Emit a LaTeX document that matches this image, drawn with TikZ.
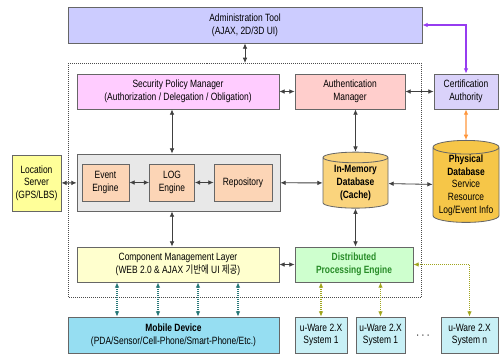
\documentclass[tikz,border=0pt]{standalone}
\usepackage{fontspec}
\setmainfont{Liberation Sans}[FakeStretch=0.8]
\newfontfamily\krfont{Noto Sans CJK KR}[FakeStretch=0.8]
\usetikzlibrary{arrows.meta, positioning, shapes.geometric}

\definecolor{admincol}{RGB}{204,204,255}
\definecolor{spmcol}{RGB}{255,204,255}
\definecolor{authcol}{RGB}{255,206,204}
\definecolor{certcol}{RGB}{218,210,250}
\definecolor{grpcol}{RGB}{232,232,232}
\definecolor{engcol}{RGB}{252,213,182}
\definecolor{loccol}{RGB}{255,255,153}
\definecolor{cachecol}{RGB}{250,212,125}
\definecolor{physcol}{RGB}{246,198,72}
\definecolor{cmlcol}{RGB}{255,255,206}
\definecolor{dpecol}{RGB}{206,255,206}
\definecolor{dpetext}{RGB}{40,140,40}
\definecolor{mobcol}{RGB}{150,222,242}
\definecolor{uwcol}{RGB}{200,240,246}
\definecolor{purplelink}{RGB}{150,60,240}
\definecolor{orangelink}{RGB}{255,150,60}
\definecolor{teallink}{RGB}{40,120,120}
\definecolor{olivelink}{RGB}{160,165,30}

\tikzset{
  box/.style={draw=gray!80!black, line width=0.7pt, rectangle, inner sep=0pt, align=center,
    font=\fontsize{9}{10.8}\selectfont},
  dbbox/.style={box, cylinder, shape border rotate=90, aspect=0.25},
  link/.style={draw=black!75, line width=0.7pt,
    {Latex[length=4.5pt,width=4pt]}-{Latex[length=4.5pt,width=4pt]}},
  dotlink/.style={link, densely dotted, line width=0.9pt},
}

\begin{document}
\begin{tikzpicture}[x=0.03cm, y=-0.03cm]
  \useasboundingbox (0,0) rectangle (501,354);

  % dotted frame round the core
  \draw[densely dotted, gray!60!black, line width=0.7pt] (68,63) rectangle (421,297);
  \coordinate (frametop) at (245,63);

  % top row
  \node[box, fill=admincol, minimum width=10.62cm, minimum height=1.08cm] (admin) at (245,25)
    {Administration Tool\\(AJAX, 2D/3D UI)};
  \node[box, fill=spmcol, minimum width=6.06cm, minimum height=1.05cm] (spm) at (178,91.5)
    {Security Policy Manager\\(Authorization / Delegation / Obligation)};
  \node[box, fill=authcol, minimum width=3.3cm, minimum height=1.05cm] (auth) at (350,91.5)
    {Authentication\\Manager};
  \node[box, fill=certcol, minimum width=1.92cm, minimum height=1.05cm] (cert) at (466,91.5)
    {Certification\\Authority};

  % middle row
  \node[box, fill=loccol, minimum width=1.47cm, minimum height=1.68cm] (loc) at (36.5,183)
    {Location\\Server\\(GPS/LBS)};
  \node[box, fill=grpcol, minimum width=6.09cm, minimum height=1.71cm] (grp) at (178.5,182.5) {};
  \node[box, fill=engcol, minimum width=1.41cm, minimum height=1.11cm] (event) at (105.5,182.5)
    {Event\\Engine};
  \node[box, fill=engcol, minimum width=1.35cm, minimum height=1.11cm] (log) at (172,182.5)
    {LOG\\Engine};
  \node[box, fill=engcol, minimum width=1.74cm, minimum height=1.11cm] (repo) at (243,182.5)
    {Repository};
  \node[dbbox, fill=cachecol, minimum width=1.95cm, minimum height=1.68cm] (cache) at (355.5,183)
    {\bfseries In-Memory\\\bfseries Database\\\bfseries (Cache)};
  \node[dbbox, fill=physcol, minimum width=1.98cm, minimum height=2.46cm] (phys) at (466,185)
    {\bfseries Physical\\\bfseries Database\\Service\\Resource\\Log/Event Info};

  % lower rows
  \node[box, fill=cmlcol, minimum width=6.06cm, minimum height=1.05cm] (cml) at (178,264.5)
    {Component Management Layer\\(WEB 2.0 \& AJAX {\krfont 기반에} UI {\krfont 제공})};
  \node[box, fill=dpecol, text=dpetext, font=\fontsize{9}{10.8}\selectfont\bfseries,
    minimum width=3.54cm, minimum height=1.05cm] (dpe) at (354,264.5)
    {Distributed\\Processing Engine};
  \node[box, fill=mobcol, minimum width=6.33cm, minimum height=1.08cm] (mob) at (173.5,335)
    {\bfseries Mobile Device\\(PDA/Sensor/Cell-Phone/Smart-Phone/Etc.)};
  \node[box, fill=uwcol, minimum width=1.56cm, minimum height=1.08cm] (uw1) at (321,335)
    {u-Ware 2.X\\System 1};
  \node[box, fill=uwcol, minimum width=1.47cm, minimum height=1.08cm] (uw2) at (380.5,335)
    {u-Ware 2.X\\System 1};
  \node[box, fill=uwcol, minimum width=1.71cm, minimum height=1.08cm] (uwn) at (469.5,335)
    {u-Ware 2.X\\System n};
  \node[font=\bfseries] (more) at (423,336) {$\cdots$};

  % connectors
  \draw[link] (admin) -- (frametop);
  \draw[link, draw=purplelink, line width=1.1pt] (cert.north) |- (admin.east);
  \draw[link] (spm) -- (auth);
  \draw[link] (auth) -- (cert);
  \draw[link] (spm.south -| log) -- (grp.north -| log);
  \draw[link] (event) -- (log);
  \draw[link] (log) -- (repo);
  \draw[link] (loc) -- (grp);
  \draw[link] (grp) -- (cache);
  \draw[link] (cache) -- (phys);
  \draw[link] (auth.south -| cache) -- (cache);
  \draw[link, draw=orangelink, line width=1.1pt] (cert) -- (phys);
  \draw[link] (cache) -- (dpe.north -| cache);
  \draw[link] (grp.south -| log) -- (cml.north -| log);
  \draw[link] (cml) -- (dpe);

  \foreach \x in {117,158,198,238}
    \draw[dotlink, draw=teallink] (cml.south -| \x,0) -- (mob.north -| \x,0);
  \foreach \u in {uw1,uw2}
    \draw[dotlink, draw=olivelink] (dpe.south -| \u) -- (\u);
  \draw[dotlink, draw=olivelink] (uwn.north) |- (dpe.east);
\end{tikzpicture}
\end{document}
